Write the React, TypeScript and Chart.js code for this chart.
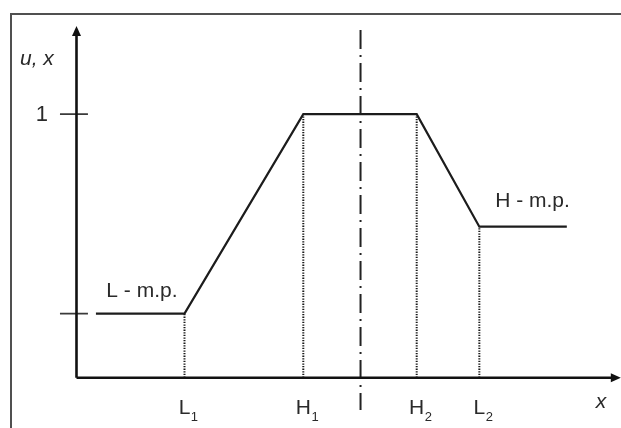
import React, { useEffect, useRef } from "react";
import { Chart, registerables } from "chart.js";

Chart.register(...registerables);

// Membership curve break points (x in conceptual units, y = membership u)
const curveX = [0.18, 1.0, 2.1, 3.15, 3.73, 4.54];
const curveY = [0.243, 0.243, 1, 1, 0.573, 0.573];

// Characteristic points on the x axis
const markerX = [1.0, 2.1, 3.15, 3.73];
const markerY = [0.243, 1, 1, 0.573];
const markerMain = ["L", "H", "H", "L"];
const markerSub = ["1", "1", "2", "2"];

// y-axis ticks
const yTickValues = [0.243, 1];
const yTickLabels = ["", "1"];

// symmetry axis and axis extents
const symmetryX = 2.63;
const symmetryRange = [-0.1226, 1.32];
const axisXEnd = 5.04;
const axisYEnd = 1.335;

// curve annotations
const curveLabels = ["L - m.p.", "H - m.p."];
const curveLabelX = [0.606, 4.222];
const curveLabelY = [0.306, 0.648];

const FONT = '"Liberation Sans", Arial, sans-serif';
const INK = "#1c1c1c";
const TEXT = "#2a2a2a";

const annotPlugin = {
  id: "annot",
  afterDatasetsDraw(chart: any) {
    const { ctx } = chart;
    const xs = chart.scales.x;
    const ys = chart.scales.y;
    const px = (v: number) => xs.getPixelForValue(v);
    const py = (v: number) => ys.getPixelForValue(v);
    ctx.save();
    // arrow heads
    ctx.fillStyle = "#111";
    const yax = px(0);
    const yay = py(axisYEnd);
    ctx.beginPath();
    ctx.moveTo(yax, yay);
    ctx.lineTo(yax - 4.5, yay + 10);
    ctx.lineTo(yax + 4.5, yay + 10);
    ctx.closePath();
    ctx.fill();
    const xax = px(axisXEnd);
    const xay = py(0);
    ctx.beginPath();
    ctx.moveTo(xax, xay);
    ctx.lineTo(xax - 10, xay - 4.5);
    ctx.lineTo(xax - 10, xay + 4.5);
    ctx.closePath();
    ctx.fill();

    ctx.fillStyle = TEXT;
    // y tick labels
    ctx.font = `22px ${FONT}`;
    ctx.textAlign = "center";
    ctx.textBaseline = "middle";
    yTickValues.forEach((v, i) => {
      if (yTickLabels[i]) ctx.fillText(yTickLabels[i], px(-0.32), py(v) + 1);
    });
    // axis names
    ctx.font = `italic 21px ${FONT}`;
    ctx.textAlign = "left";
    ctx.textBaseline = "alphabetic";
    ctx.fillText("u, x", px(-0.523), py(1.186));
    ctx.textAlign = "center";
    ctx.fillText("x", px(4.856), py(-0.115));

    // x marker labels with subscripts
    markerX.forEach((v, i) => {
      const cx = px(v);
      const base = py(-0.138);
      ctx.font = `21px ${FONT}`;
      ctx.textAlign = "center";
      const w = ctx.measureText(markerMain[i]).width;
      ctx.fillText(markerMain[i], cx, base);
      ctx.font = `13px ${FONT}`;
      ctx.textAlign = "left";
      ctx.fillText(markerSub[i], cx + w / 2 + 0.5, base + 7);
    });

    // curve labels
    ctx.font = `21px ${FONT}`;
    ctx.textAlign = "center";
    curveLabels.forEach((t, i) => {
      ctx.fillText(t, px(curveLabelX[i]), py(curveLabelY[i]));
    });
    ctx.restore();
  },
};

export default function App() {
  const ref = useRef<HTMLCanvasElement | null>(null);
  useEffect(() => {
    if (!ref.current) return;
    const curve = curveX.map((x, i) => ({ x, y: curveY[i] }));
    const dotted: any[] = [];
    markerX.forEach((x, i) => {
      dotted.push({ x, y: 0 }, { x, y: markerY[i] }, { x, y: null });
    });
    const ticks: any[] = [];
    yTickValues.forEach((v) => {
      ticks.push({ x: -0.153, y: v }, { x: 0.106, y: v }, { x: 0, y: null });
    });
    const chart = new Chart(ref.current, {
      type: "line",
      data: {
        datasets: [
          {
            data: [
              { x: 0, y: 0 },
              { x: axisXEnd - 0.05, y: 0 },
            ],
            borderColor: "#111",
            borderWidth: 2.6,
            pointRadius: 0,
          },
          {
            data: [
              { x: 0, y: 0 },
              { x: 0, y: axisYEnd - 0.02 },
            ],
            borderColor: "#111",
            borderWidth: 2.6,
            pointRadius: 0,
          },
          {
            data: curve,
            borderColor: INK,
            borderWidth: 2.2,
            pointRadius: 0,
            tension: 0,
          },
          {
            data: ticks,
            borderColor: "#3a3a3a",
            borderWidth: 1.8,
            pointRadius: 0,
            spanGaps: false,
          },
          {
            data: [
              { x: symmetryX, y: symmetryRange[1] },
              { x: symmetryX, y: symmetryRange[0] },
            ],
            borderColor: "#222",
            borderWidth: 2,
            borderDash: [19, 6, 2, 6],
            pointRadius: 0,
          },
          {
            data: dotted,
            borderColor: "#1a1a1a",
            borderWidth: 2,
            borderDash: [1.3, 1.3],
            pointRadius: 0,
            spanGaps: false,
          },
        ],
      },
      options: {
        animation: false,
        responsive: false,
        maintainAspectRatio: false,
        layout: { padding: 0 },
        plugins: {
          legend: { display: false },
          tooltip: { enabled: false },
          title: { display: false },
        },
        scales: {
          x: { type: "linear", display: false, min: -0.7083, max: 5.0417 },
          y: { type: "linear", display: false, min: -0.1909, max: 1.4334 },
        },
        events: [],
      },
      plugins: [annotPlugin],
    } as any);
    return () => chart.destroy();
  }, []);
  return (
    <div style={{ position: "absolute", left: 0, top: 0, width: 621, height: 428, background: "#fff", overflow: "hidden" }}>
      <div
        style={{
          position: "absolute",
          left: 10,
          top: 13,
          width: 620,
          height: 430,
          borderTop: "2px solid #505050",
          borderLeft: "2px solid #505050",
        }}
      />
      <canvas ref={ref} width={621} height={428} style={{ position: "absolute", left: 0, top: 0 }} />
    </div>
  );
}
